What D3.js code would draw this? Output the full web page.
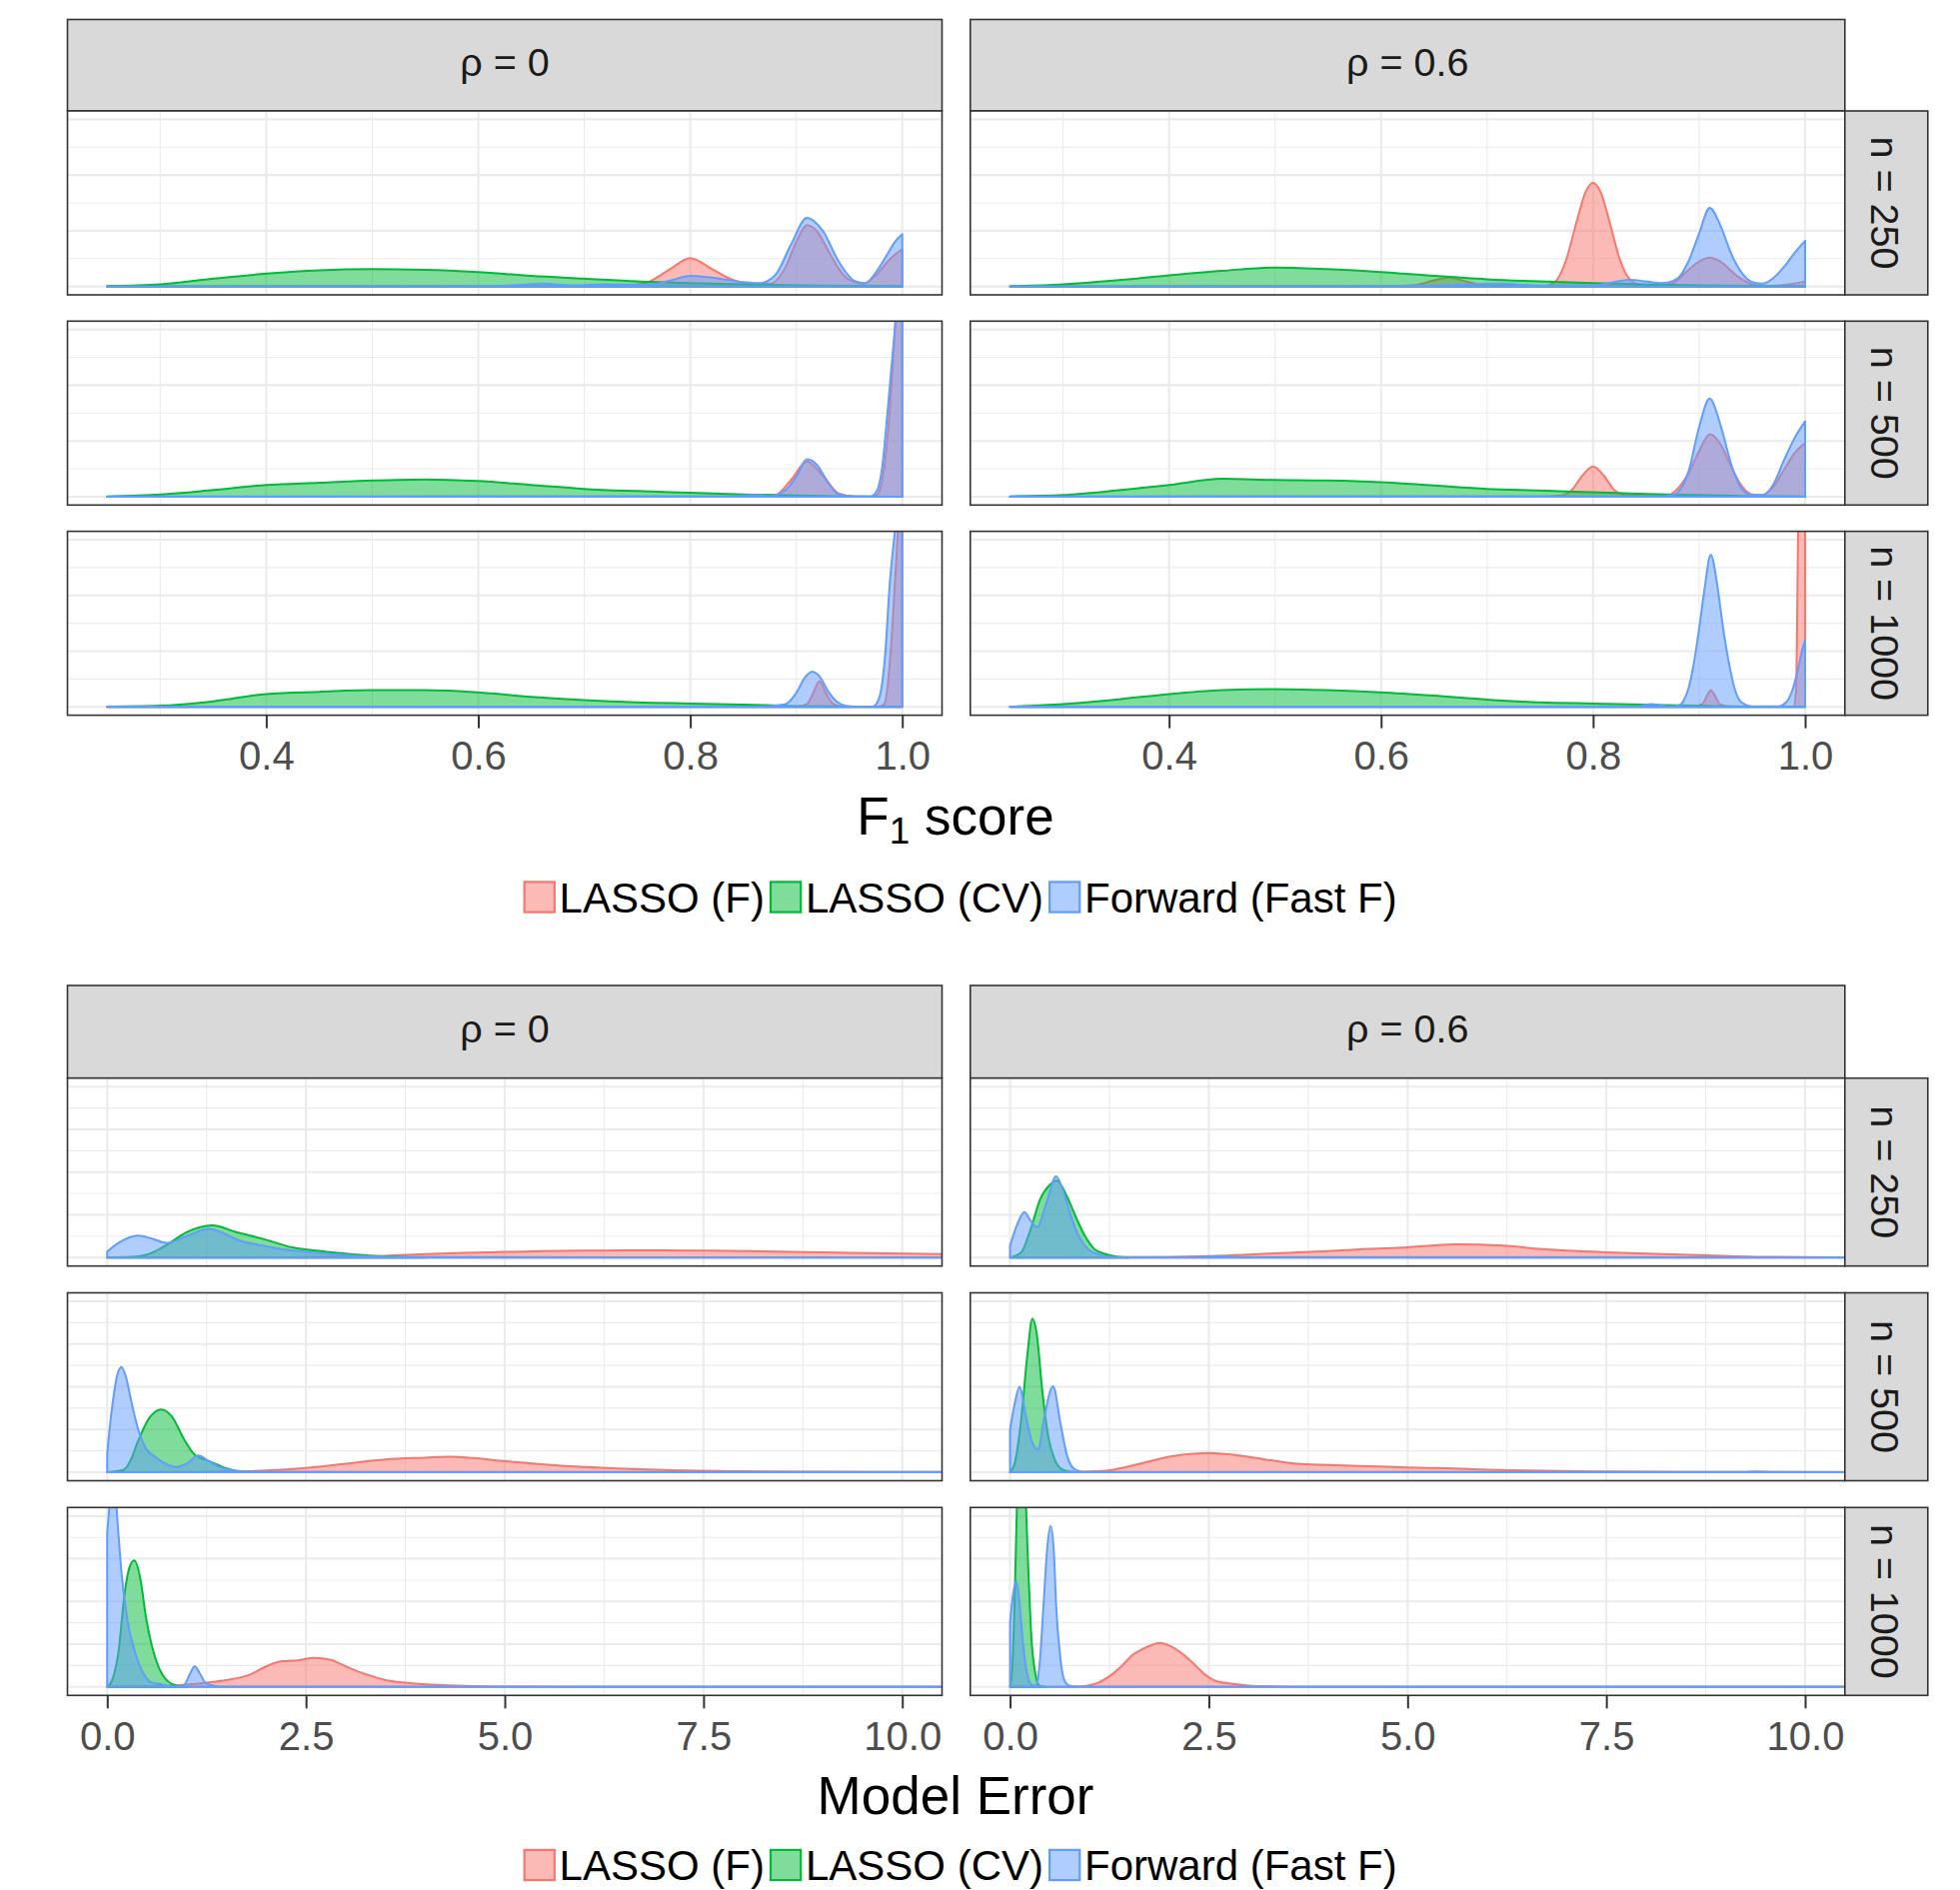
<!DOCTYPE html>
<html><head><meta charset="utf-8">
<script src="https://cdn.jsdelivr.net/npm/d3@7/dist/d3.min.js"></script>
<style>
html,body{margin:0;padding:0;background:#fff}
svg{display:block}
text{font-family:"Liberation Sans",Arial,Helvetica,sans-serif}
</style>
</head><body>
<svg id="c" width="1961" height="1891"></svg>
<script>
// ---------- categories / labels ----------
const seriesNames = ["LASSO (F)", "LASSO (CV)", "Forward (Fast F)"];
const seriesColors = ["#F8766D", "#00BA38", "#619CFF"];
const rhoLabels = ["0", "0.6"];
const nLabels = ["250", "500", "1000"];
const f1Ticks = [0.4, 0.6, 0.8, 1.0];
const f1TickLabels = ["0.4", "0.6", "0.8", "1.0"];
const f1MinorTicks = [0.3, 0.5, 0.7, 0.9];
const meTicks = [0, 2.5, 5, 7.5, 10];
const meTickLabels = ["0.0", "2.5", "5.0", "7.5", "10.0"];
const meMinorTicks = [1.25, 3.75, 6.25, 8.75];

// ---------- F1 score densities: [F1 score, density] ----------
const f1_rho0_n250_lassoF = [[0.25,0],[0.6,0.002],[0.7,0.005],[0.74,0.02],[0.76,0.08],[0.78,0.3],[0.8,0.51],[0.82,0.32],[0.84,0.12],[0.86,0.05],[0.875,0.05],[0.89,0.35],[0.9,0.8],[0.91,1.1],[0.92,0.98],[0.93,0.65],[0.94,0.32],[0.95,0.12],[0.963,0.05],[0.975,0.2],[0.985,0.42],[0.993,0.57],[1.0,0.67]];
const f1_rho0_n250_lassoCV = [[0.25,0.01],[0.3,0.04],[0.35,0.14],[0.4,0.23],[0.45,0.29],[0.5,0.31],[0.55,0.3],[0.6,0.26],[0.65,0.19],[0.7,0.14],[0.75,0.09],[0.8,0.06],[0.85,0.04],[0.9,0.02],[0.95,0.01],[1.0,0.005]];
const f1_rho0_n250_forward = [[0.25,0.004],[0.6,0.005],[0.64,0.03],[0.66,0.05],[0.69,0.02],[0.72,0.04],[0.76,0.03],[0.78,0.1],[0.8,0.19],[0.82,0.16],[0.85,0.08],[0.865,0.06],[0.88,0.2],[0.895,0.75],[0.91,1.23],[0.925,1.0],[0.94,0.45],[0.955,0.1],[0.965,0.06],[0.975,0.25],[0.985,0.55],[0.993,0.8],[1.0,0.94]];

const f1_rho0_n500_lassoF = [[0.25,0],[0.85,0.002],[0.88,0.03],[0.895,0.3],[0.91,0.63],[0.925,0.38],[0.94,0.06],[0.955,0.005],[0.972,0.003],[0.977,0.05],[0.982,0.4],[0.988,1.5],[0.993,3.0],[0.996,4.0],[1.0,5]];
const f1_rho0_n500_lassoCV = [[0.25,0.005],[0.3,0.04],[0.35,0.12],[0.4,0.21],[0.45,0.25],[0.5,0.29],[0.55,0.31],[0.6,0.28],[0.65,0.21],[0.7,0.14],[0.75,0.1],[0.8,0.07],[0.85,0.04],[0.9,0.02],[0.95,0.005],[1.0,0]];
const f1_rho0_n500_forward = [[0.25,0.003],[0.84,0.005],[0.86,0.03],[0.875,0.01],[0.89,0.12],[0.9,0.36],[0.91,0.67],[0.92,0.56],[0.93,0.25],[0.94,0.04],[0.955,0.003],[0.97,0.003],[0.976,0.1],[0.981,0.52],[0.986,1.5],[0.991,2.58],[0.994,3.2],[1.0,4.5]];

const f1_rho0_n1000_lassoF = [[0.25,0],[0.9,0.003],[0.91,0.05],[0.916,0.25],[0.922,0.46],[0.928,0.25],[0.935,0.05],[0.945,0.003],[0.978,0.003],[0.983,0.05],[0.989,0.97],[0.993,2.2],[0.996,3.2],[1.0,5]];
const f1_rho0_n1000_lassoCV = [[0.25,0.005],[0.3,0.02],[0.35,0.1],[0.4,0.23],[0.45,0.27],[0.5,0.3],[0.55,0.3],[0.6,0.26],[0.65,0.18],[0.7,0.12],[0.75,0.08],[0.8,0.06],[0.85,0.04],[0.9,0.015],[0.95,0.005],[1.0,0]];
const f1_rho0_n1000_forward = [[0.25,0.003],[0.86,0.005],[0.875,0.015],[0.89,0.05],[0.9,0.25],[0.908,0.52],[0.915,0.63],[0.923,0.52],[0.93,0.28],[0.938,0.1],[0.947,0.02],[0.96,0.003],[0.972,0.003],[0.978,0.15],[0.984,0.97],[0.988,2.16],[0.993,3.15],[1.0,4.5]];

const f1_rho06_n250_lassoF = [[0.25,0],[0.6,0.003],[0.63,0.02],[0.65,0.11],[0.665,0.16],[0.68,0.09],[0.7,0.02],[0.73,0.01],[0.755,0.01],[0.765,0.1],[0.775,0.5],[0.785,1.2],[0.793,1.7],[0.8,1.86],[0.807,1.7],[0.815,1.2],[0.825,0.5],[0.835,0.12],[0.845,0.03],[0.86,0.02],[0.875,0.06],[0.89,0.3],[0.9,0.45],[0.91,0.52],[0.92,0.45],[0.935,0.2],[0.95,0.04],[0.965,0.01],[0.985,0.04],[1.0,0.09]];
const f1_rho06_n250_lassoCV = [[0.25,0.005],[0.3,0.04],[0.35,0.11],[0.4,0.2],[0.45,0.28],[0.5,0.34],[0.55,0.31],[0.6,0.26],[0.65,0.19],[0.7,0.13],[0.75,0.09],[0.8,0.06],[0.85,0.04],[0.9,0.02],[0.95,0.01],[1.0,0.005]];
const f1_rho06_n250_forward = [[0.25,0.003],[0.6,0.005],[0.66,0.02],[0.71,0.05],[0.75,0.015],[0.8,0.02],[0.82,0.08],[0.835,0.12],[0.85,0.09],[0.865,0.06],[0.88,0.15],[0.89,0.45],[0.9,0.95],[0.91,1.41],[0.92,1.1],[0.93,0.6],[0.94,0.25],[0.95,0.08],[0.96,0.05],[0.97,0.15],[0.98,0.35],[0.99,0.6],[1.0,0.82]];

const f1_rho06_n500_lassoF = [[0.25,0],[0.75,0.003],[0.77,0.02],[0.78,0.12],[0.79,0.38],[0.8,0.54],[0.81,0.38],[0.82,0.12],[0.83,0.03],[0.85,0.01],[0.87,0.02],[0.88,0.15],[0.89,0.42],[0.9,0.82],[0.91,1.12],[0.92,0.95],[0.93,0.55],[0.94,0.2],[0.95,0.04],[0.96,0.03],[0.97,0.18],[0.98,0.48],[0.99,0.78],[1.0,0.96]];
const f1_rho06_n500_lassoCV = [[0.25,0.005],[0.3,0.03],[0.35,0.11],[0.4,0.21],[0.45,0.32],[0.5,0.3],[0.55,0.29],[0.6,0.26],[0.65,0.2],[0.7,0.14],[0.75,0.11],[0.8,0.08],[0.85,0.05],[0.9,0.03],[0.95,0.01],[1.0,0.003]];
const f1_rho06_n500_forward = [[0.25,0.003],[0.86,0.005],[0.875,0.03],[0.88,0.08],[0.89,0.45],[0.9,1.25],[0.91,1.76],[0.92,1.3],[0.93,0.6],[0.94,0.15],[0.95,0.03],[0.96,0.03],[0.97,0.22],[0.98,0.65],[0.99,1.05],[1.0,1.35]];

const f1_rho06_n1000_lassoF = [[0.25,0],[0.895,0.003],[0.903,0.05],[0.908,0.22],[0.911,0.3],[0.915,0.2],[0.92,0.04],[0.93,0.003],[0.989,0.003],[0.9915,0.3],[0.993,2.5],[0.995,6],[1.0,10]];
const f1_rho06_n1000_lassoCV = [[0.25,0.005],[0.3,0.05],[0.35,0.13],[0.4,0.23],[0.45,0.3],[0.5,0.32],[0.55,0.3],[0.6,0.26],[0.65,0.2],[0.7,0.13],[0.75,0.08],[0.8,0.06],[0.85,0.04],[0.9,0.02],[0.95,0.005],[1.0,0]];
const f1_rho06_n1000_forward = [[0.25,0.003],[0.84,0.005],[0.855,0.05],[0.87,0.01],[0.88,0.02],[0.885,0.1],[0.89,0.33],[0.895,0.78],[0.9,1.4],[0.905,2.1],[0.911,2.73],[0.917,2.2],[0.922,1.5],[0.928,0.8],[0.934,0.3],[0.94,0.08],[0.95,0.01],[0.975,0.01],[0.982,0.08],[0.988,0.3],[0.993,0.65],[0.997,1.0],[1.0,1.2]];

// ---------- Model error densities: [model error, density] ----------
const me_rho0_n250_lassoF = [[0,0],[2,0.003],[2.5,0.008],[3,0.02],[3.5,0.04],[4,0.08],[4.5,0.11],[5,0.13],[5.5,0.15],[6,0.16],[6.5,0.17],[7,0.17],[7.5,0.16],[8,0.15],[9,0.12],[10,0.09],[11,0.07]];
const me_rho0_n250_lassoCV = [[0,0],[0.4,0.03],[0.55,0.1],[0.75,0.3],[1.0,0.59],[1.32,0.75],[1.63,0.59],[1.95,0.44],[2.34,0.23],[2.73,0.14],[3.12,0.07],[3.4,0.03],[3.8,0.005],[4,0]];
const me_rho0_n250_forward = [[0,0.14],[0.15,0.35],[0.39,0.51],[0.55,0.45],[0.75,0.34],[1.0,0.5],[1.28,0.67],[1.45,0.58],[1.63,0.42],[1.95,0.28],[2.34,0.16],[2.73,0.09],[3.12,0.04],[3.75,0.015],[5,0.008],[8,0.005],[11,0.003]];

const me_rho0_n500_lassoF = [[0,0],[1,0.005],[1.5,0.015],[2,0.04],[2.5,0.1],[3,0.2],[3.5,0.3],[4,0.34],[4.3,0.36],[4.6,0.33],[5,0.26],[5.5,0.18],[6,0.12],[6.5,0.08],[7,0.05],[8,0.02],[9,0.01],[10,0.005],[11,0.002]];
const me_rho0_n500_lassoCV = [[0,0],[0.2,0.05],[0.3,0.3],[0.38,0.69],[0.53,1.27],[0.68,1.47],[0.81,1.31],[0.97,0.76],[1.1,0.41],[1.28,0.26],[1.48,0.1],[1.63,0.03],[1.8,0.005],[2,0]];
const me_rho0_n500_forward = [[0,0.45],[0.06,1.5],[0.13,2.3],[0.18,2.46],[0.24,2.2],[0.31,1.6],[0.39,1.0],[0.49,0.55],[0.61,0.35],[0.73,0.2],[0.87,0.12],[1.0,0.2],[1.15,0.39],[1.28,0.25],[1.44,0.1],[1.63,0.03],[2,0.01],[5,0.005],[11,0.003]];

const me_rho0_n1000_lassoF = [[0,0],[0.6,0.01],[0.8,0.03],[1.0,0.05],[1.2,0.09],[1.5,0.16],[1.8,0.29],[2.0,0.48],[2.2,0.6],[2.4,0.62],[2.6,0.68],[2.8,0.64],[3.0,0.48],[3.2,0.33],[3.5,0.16],[3.8,0.09],[4.2,0.04],[4.6,0.015],[5,0.005],[6,0],[11,0]];
const me_rho0_n1000_lassoCV = [[0,0],[0.06,0.15],[0.14,0.8],[0.22,2.2],[0.28,2.8],[0.34,2.96],[0.42,2.5],[0.49,1.6],[0.57,0.9],[0.65,0.45],[0.77,0.12],[0.89,0.02],[1.0,0]];
const me_rho0_n1000_forward = [[0,3.6],[0.04,4.4],[0.09,4.7],[0.14,3.6],[0.18,2.67],[0.26,1.5],[0.34,0.88],[0.44,0.37],[0.57,0.09],[0.65,0.07],[0.77,0.02],[0.9,0.01],[0.97,0.05],[1.04,0.3],[1.1,0.48],[1.17,0.3],[1.24,0.09],[1.36,0.02],[1.5,0.005],[11,0.003]];

const me_rho06_n250_lassoF = [[0,0],[1,0.003],[2,0.01],[2.5,0.03],[3,0.07],[3.5,0.11],[4,0.15],[4.5,0.2],[5,0.24],[5.3,0.28],[5.6,0.31],[6.2,0.28],[6.6,0.21],[7,0.16],[7.5,0.12],[8,0.09],[8.75,0.05],[9.5,0.015],[10.5,0.005],[11,0.002]];
const me_rho06_n250_lassoCV = [[0,0],[0.14,0.12],[0.26,0.67],[0.38,1.37],[0.5,1.7],[0.59,1.8],[0.7,1.49],[0.82,0.98],[0.94,0.51],[1.06,0.2],[1.18,0.09],[1.34,0.02],[1.5,0]];
const me_rho06_n250_forward = [[0,0.28],[0.1,0.82],[0.18,1.06],[0.26,0.86],[0.34,0.71],[0.46,1.29],[0.58,1.9],[0.66,1.6],[0.75,1.06],[0.86,0.51],[0.98,0.2],[1.14,0.06],[1.3,0.01],[2.3,0.01],[2.6,0.03],[2.9,0.01],[11,0.003]];

const me_rho06_n500_lassoF = [[0,0],[0.7,0.005],[1.0,0.015],[1.3,0.06],[1.6,0.18],[2.0,0.36],[2.3,0.43],[2.5,0.45],[2.8,0.41],[3.2,0.3],[3.6,0.2],[4.0,0.17],[4.5,0.14],[5.0,0.11],[5.5,0.09],[6.0,0.06],[6.5,0.04],[7.5,0.015],[8.5,0.005],[11,0.001]];
const me_rho06_n500_lassoCV = [[0,0],[0.06,0.22],[0.14,1.23],[0.22,2.79],[0.28,3.59],[0.34,3.18],[0.4,2.01],[0.48,0.84],[0.56,0.3],[0.66,0.06],[0.78,0.005],[0.9,0]];
const me_rho06_n500_forward = [[0,1.0],[0.06,1.62],[0.12,2.0],[0.2,1.31],[0.28,0.69],[0.35,0.53],[0.44,1.39],[0.54,2.01],[0.64,1.08],[0.72,0.37],[0.82,0.06],[0.94,0.005],[9.2,0.005],[9.4,0.015],[9.6,0.005],[11,0.003]];

const me_rho06_n1000_lassoF = [[0,0],[0.7,0.002],[0.9,0.01],[1.0,0.04],[1.1,0.09],[1.25,0.25],[1.4,0.48],[1.55,0.76],[1.65,0.87],[1.8,0.99],[1.88,1.03],[2.0,0.97],[2.15,0.8],[2.3,0.56],[2.45,0.29],[2.6,0.13],[2.8,0.07],[3.0,0.03],[3.3,0.01],[3.6,0],[11,0]];
const me_rho06_n1000_lassoCV = [[0,0],[0.03,0.5],[0.06,2.2],[0.09,4.5],[0.14,6],[0.2,4.3],[0.22,3.2],[0.24,2.3],[0.27,1.1],[0.31,0.4],[0.34,0.13],[0.38,0.02],[0.45,0]];
const me_rho06_n1000_forward = [[0,1.5],[0.04,2.2],[0.08,2.48],[0.12,1.95],[0.14,1.5],[0.18,0.72],[0.22,0.25],[0.27,0.05],[0.32,0.03],[0.34,0.09],[0.38,0.72],[0.42,1.89],[0.47,3.3],[0.51,3.77],[0.55,3.2],[0.58,1.89],[0.63,0.72],[0.68,0.17],[0.74,0.03],[0.85,0.005],[11,0.003]];

// facet tables built from the arrays above: [rho][n] -> [LASSO (F), LASSO (CV), Forward]
const f1Facets = [
  [[f1_rho0_n250_lassoF,f1_rho0_n250_lassoCV,f1_rho0_n250_forward],
   [f1_rho0_n500_lassoF,f1_rho0_n500_lassoCV,f1_rho0_n500_forward],
   [f1_rho0_n1000_lassoF,f1_rho0_n1000_lassoCV,f1_rho0_n1000_forward]],
  [[f1_rho06_n250_lassoF,f1_rho06_n250_lassoCV,f1_rho06_n250_forward],
   [f1_rho06_n500_lassoF,f1_rho06_n500_lassoCV,f1_rho06_n500_forward],
   [f1_rho06_n1000_lassoF,f1_rho06_n1000_lassoCV,f1_rho06_n1000_forward]]
];
const meFacets = [
  [[me_rho0_n250_lassoF,me_rho0_n250_lassoCV,me_rho0_n250_forward],
   [me_rho0_n500_lassoF,me_rho0_n500_lassoCV,me_rho0_n500_forward],
   [me_rho0_n1000_lassoF,me_rho0_n1000_lassoCV,me_rho0_n1000_forward]],
  [[me_rho06_n250_lassoF,me_rho06_n250_lassoCV,me_rho06_n250_forward],
   [me_rho06_n500_lassoF,me_rho06_n500_lassoCV,me_rho06_n500_forward],
   [me_rho06_n1000_lassoF,me_rho06_n1000_lassoCV,me_rho06_n1000_forward]]
];

// ---------- layout ----------
const svg = d3.select("#c");
const colLeft = [67.5, 970.8];
const panelW = 875;
const rightStripW = 83;
const STRIP_FILL = "#D9D9D9", BORDER = "#333333", GRID = "#EBEBEB";
let clipId = 0;

function drawChart(cfg) {
  const g = svg.append("g");
  const x = d3.scaleLinear().domain(cfg.xDomain);
  const yMax = cfg.yMajor[cfg.yMajor.length - 1];
  const pad = yMax * 0.05;

  // column strips
  colLeft.forEach((cx, ci) => {
    g.append("rect").attr("x", cx).attr("y", cfg.stripTop).attr("width", panelW).attr("height", cfg.stripH)
      .attr("fill", STRIP_FILL).attr("stroke", BORDER).attr("stroke-width", 1.6);
    g.append("text").attr("x", cx + panelW / 2).attr("y", cfg.stripTop + cfg.stripH / 2 + 10.5)
      .attr("text-anchor", "middle").attr("font-size", 39.5).attr("fill", "#1A1A1A")
      .text("\u03C1 = " + rhoLabels[ci]);
  });

  nLabels.forEach((nl, ri) => {
    const top = cfg.rowTops[ri], bot = top + cfg.rowH;
    const y = d3.scaleLinear().domain([-pad, yMax + pad]).range([bot, top]);
    colLeft.forEach((cx, ci) => {
      x.range([cx, cx + panelW]);
      const pg = g.append("g");
      pg.append("rect").attr("x", cx).attr("y", top).attr("width", panelW).attr("height", cfg.rowH).attr("fill", "#fff");
      // grid minor
      cfg.yMinor.forEach(v => pg.append("line").attr("x1", cx).attr("x2", cx + panelW).attr("y1", y(v)).attr("y2", y(v))
        .attr("stroke", GRID).attr("stroke-width", 1.1));
      cfg.xMinor.forEach(v => pg.append("line").attr("x1", x(v)).attr("x2", x(v)).attr("y1", top).attr("y2", bot)
        .attr("stroke", GRID).attr("stroke-width", 1.1));
      // grid major
      cfg.yMajor.forEach(v => pg.append("line").attr("x1", cx).attr("x2", cx + panelW).attr("y1", y(v)).attr("y2", y(v))
        .attr("stroke", GRID).attr("stroke-width", 2.1));
      cfg.xTicks.forEach(v => pg.append("line").attr("x1", x(v)).attr("x2", x(v)).attr("y1", top).attr("y2", bot)
        .attr("stroke", GRID).attr("stroke-width", 2.1));
      // densities
      const id = "clip" + (clipId++);
      pg.append("clipPath").attr("id", id).append("rect").attr("x", cx).attr("y", top).attr("width", panelW).attr("height", cfg.rowH);
      const dg = pg.append("g").attr("clip-path", "url(#" + id + ")");
      const area = d3.area().x(d => x(d[0])).y0(y(0)).y1(d => y(d[1])).curve(d3.curveMonotoneX);
      cfg.facets[ci][ri].forEach((arr, si) => {
        dg.append("path").attr("d", area(arr))
          .attr("fill", seriesColors[si]).attr("fill-opacity", 0.5)
          .attr("stroke", seriesColors[si]).attr("stroke-width", 2).attr("stroke-linejoin", "round");
      });
      // border
      pg.append("rect").attr("x", cx).attr("y", top).attr("width", panelW).attr("height", cfg.rowH)
        .attr("fill", "none").attr("stroke", BORDER).attr("stroke-width", 1.6);
      // x axis on last row
      if (ri === nLabels.length - 1) {
        const ax = d3.axisBottom(x).tickValues(cfg.xTicks).tickFormat((d, i) => cfg.xTickLabels[i])
          .tickSize(13).tickPadding(13.5);
        const axg = pg.append("g").attr("transform", "translate(0," + bot + ")").call(ax);
        axg.select(".domain").remove();
        axg.selectAll(".tick line").attr("stroke", BORDER).attr("stroke-width", 2);
        axg.selectAll(".tick text").attr("fill", "#4D4D4D").attr("font-size", 40)
          .attr("font-family", '"Liberation Sans",Arial,Helvetica,sans-serif');
      }
    });
    // right strip
    const sx = colLeft[1] + panelW;
    g.append("rect").attr("x", sx).attr("y", top).attr("width", rightStripW).attr("height", cfg.rowH)
      .attr("fill", STRIP_FILL).attr("stroke", BORDER).attr("stroke-width", 1.6);
    const tx = sx + rightStripW / 2 - 15.5, ty = top + cfg.rowH / 2;
    g.append("text").attr("transform", "translate(" + tx + "," + ty + ") rotate(90)")
      .attr("text-anchor", "middle").attr("font-size", 39.5).attr("fill", "#1A1A1A")
      .text("n = " + nl);
  });

  // axis title
  const t = g.append("text").attr("x", 956).attr("y", cfg.titleY).attr("text-anchor", "middle")
    .attr("font-size", 53).attr("fill", "#000");
  cfg.title(t);

  // legend
  const lg = g.append("g");
  let cur = 0;
  seriesNames.forEach((nm, i) => {
    const it = lg.append("g");
    it.append("rect").attr("x", cur + 1.1).attr("y", cfg.legendY - 15.1).attr("width", 30.2).attr("height", 30.2)
      .attr("fill", seriesColors[i]).attr("fill-opacity", 0.5).attr("stroke", seriesColors[i]).attr("stroke-width", 2.2);
    const tt = it.append("text").attr("x", cur + 36).attr("y", cfg.legendY + 15).attr("font-size", 42)
      .attr("fill", "#000").text(nm);
    const w = tt.node().getComputedTextLength();
    cur += 36 + w + 5;
  });
  const total = cur - 5;
  lg.attr("transform", "translate(" + (960.6 - total / 2) + ",0)");
}

drawChart({
  stripTop: 19.5, stripH: 91.5, rowTops: [111, 321.3, 531.6], rowH: 184,
  xDomain: [0.2125, 1.0375], xTicks: f1Ticks, xTickLabels: f1TickLabels, xMinor: f1MinorTicks,
  yMajor: [0, 1, 2, 3], yMinor: [0.5, 1.5, 2.5],
  facets: f1Facets, titleY: 835, legendY: 897.5,
  title: t => {
    t.append("tspan").text("F");
    t.append("tspan").attr("font-size", 37).attr("dy", 9).text("1");
    t.append("tspan").attr("dy", -9).text(" score");
  }
});

drawChart({
  stripTop: 986, stripH: 92.7, rowTops: [1078.7, 1293.5, 1508.3], rowH: 188,
  xDomain: [-0.5, 10.5], xTicks: meTicks, xTickLabels: meTickLabels, xMinor: meMinorTicks,
  yMajor: [0, 1, 2, 3, 4], yMinor: [0.5, 1.5, 2.5, 3.5],
  facets: meFacets, titleY: 1815, legendY: 1866,
  title: t => { t.text("Model Error"); }
});
</script>
</body></html>
